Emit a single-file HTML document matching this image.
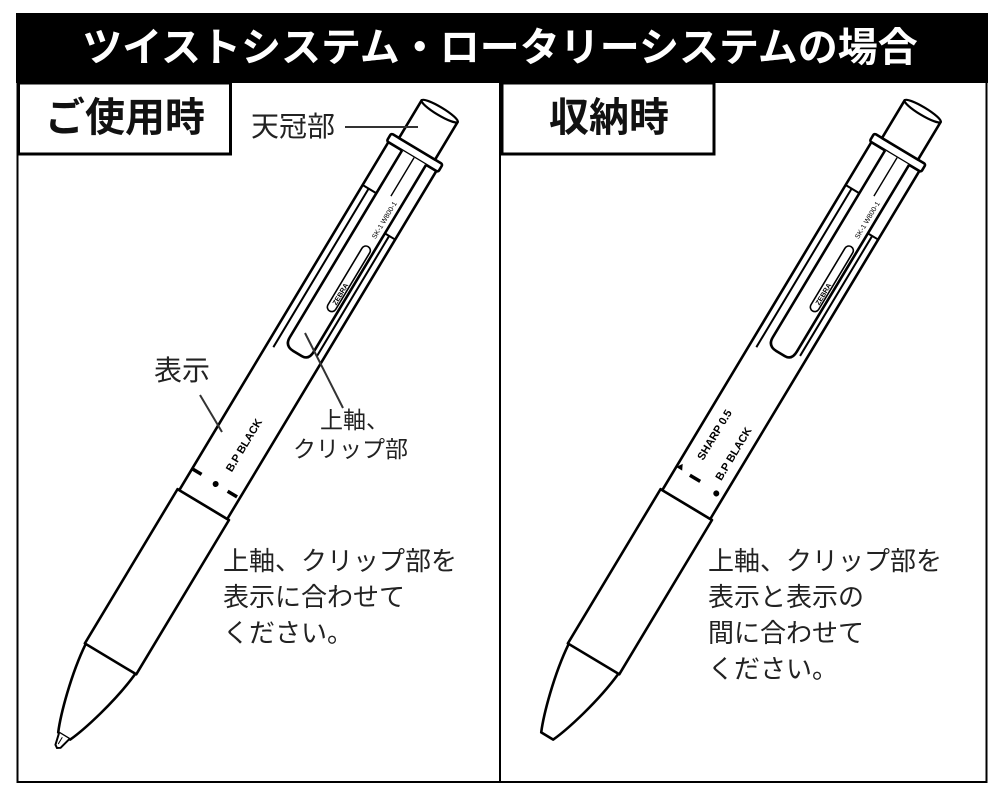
<!DOCTYPE html>
<html><head><meta charset="utf-8">
<style>
html,body{margin:0;padding:0;background:#fff;}
body{width:1000px;height:798px;position:relative;overflow:hidden;font-family:"Liberation Sans","Noto Sans CJK JP",sans-serif;}
.t{position:absolute;white-space:nowrap;color:#222;}
</style></head><body>
<svg width="1000" height="798" style="position:absolute;left:0;top:0" xmlns="http://www.w3.org/2000/svg">
<defs>
<g id="pen" fill="none" stroke="#000" stroke-width="2.6" stroke-linejoin="round">
  <!-- nose -->
  <path d="M104,-29 C70,-26 30,-14 14,-7 L14,7 C30,14 70,26 104,29" fill="#fff"/>
  <!-- grip -->
  <rect x="104" y="-30" width="180" height="60" fill="#fff"/>
  <!-- body -->
  <rect x="284" y="-28" width="406" height="56" fill="#fff"/>
  <!-- top ring -->
  <rect x="690" y="-30" width="9" height="60" rx="2" fill="#fff"/>
  <!-- cap -->
  <rect x="699" y="-21" width="44" height="42" fill="#fff"/>
  <ellipse cx="743" cy="0" rx="4" ry="21" fill="#fff" stroke-width="2.2"/>
  <!-- clip -->
  <path d="M690,-12 L472,-12 Q462,-12 462,-2 L462,8 Q462,16 472,16 L690,16" fill="#fff"/>
  <!-- inner strip lines -->
  <line x1="455" y1="-21" x2="640" y2="-21" stroke-width="2"/>
  <line x1="640" y1="-28" x2="640" y2="-12" stroke-width="2"/>
  <line x1="470" y1="21" x2="610" y2="21" stroke-width="2"/>
  <line x1="610" y1="16" x2="610" y2="28" stroke-width="2"/>
  <line x1="645" y1="2" x2="690" y2="2" stroke-width="1.4"/>
  <!-- ZEBRA emboss -->
  <rect x="515" y="4" width="75" height="9" rx="4.5" stroke-width="1.6"/>
  <text x="523" y="11.5" font-size="7" font-weight="bold" fill="#000" stroke="none" font-family="Liberation Sans,sans-serif">ZEBRA</text>
  <text x="600" y="11" font-size="7" fill="#000" stroke="none" font-family="Liberation Sans,sans-serif">SK-1 W800-1</text>
</g>
</defs>

<!-- header -->
<rect x="16" y="13" width="972" height="70" fill="#000"/>
<!-- frame -->
<rect x="17.5" y="70" width="969" height="712" fill="none" stroke="#000" stroke-width="2"/>
<line x1="500" y1="83" x2="500" y2="782" stroke="#000" stroke-width="2"/>
<rect x="16" y="13" width="972" height="70" fill="#000"/>
<!-- label boxes -->
<rect x="18.5" y="83" width="212" height="71" fill="#fff" stroke="#000" stroke-width="3"/>
<rect x="502" y="83" width="212" height="71" fill="#fff" stroke="#000" stroke-width="3"/>

<!-- left pen -->
<g transform="translate(57,748) rotate(-59)">
  <use href="#pen"/>
  <!-- refill tip -->
  <path d="M14,-6 L2,-3 L0,0 L2,3 L14,6" fill="#fff" stroke="#000" stroke-width="2"/>
  <line x1="4" y1="-1" x2="12" y2="-1" stroke="#000" stroke-width="1"/>
  <!-- markings -->
  <line x1="309" y1="-27" x2="309" y2="-17" stroke="#000" stroke-width="3.5"/>
  <circle cx="308" cy="0" r="3" fill="#000"/>
  <line x1="308" y1="14" x2="308" y2="25" stroke="#000" stroke-width="3.5"/>
  <text x="326" y="8" font-size="11" font-weight="bold" font-family="Liberation Sans,sans-serif" fill="#000">B.P  BLACK</text>
</g>

<!-- right pen -->
<g transform="translate(540,748) rotate(-59)">
  <use href="#pen"/>
  <path d="M311,-28 L317,-24 L311,-21 Z" fill="#000"/>
  <line x1="311" y1="-12" x2="311" y2="0" stroke="#000" stroke-width="3.5"/>
  <circle cx="309" cy="20" r="3" fill="#000"/>
  <text x="330" y="-8" font-size="11" font-weight="bold" font-family="Liberation Sans,sans-serif" fill="#000">SHARP  0.5</text>
  <text x="322" y="18" font-size="11" font-weight="bold" font-family="Liberation Sans,sans-serif" fill="#000">B.P  BLACK</text>
</g>

<!-- leader lines -->
<line x1="345" y1="127" x2="418" y2="127" stroke="#333" stroke-width="2"/>
<line x1="200" y1="395" x2="222" y2="432" stroke="#333" stroke-width="2"/>
<line x1="305" y1="333" x2="343" y2="408" stroke="#333" stroke-width="2"/>
</svg>

<div class="t" style="left:0;width:1000px;top:22px;text-align:center;color:#fff;font-size:40px;font-weight:bold;line-height:52px;">ツイストシステム・ロータリーシステムの場合</div>
<div class="t" style="left:19px;width:212px;top:92px;text-align:center;color:#111;font-size:40px;font-weight:bold;line-height:52px;">ご使用時</div>
<div class="t" style="left:503px;width:212px;top:92px;text-align:center;color:#111;font-size:40px;font-weight:bold;line-height:52px;">収納時</div>

<div class="t" style="left:251px;top:110px;font-size:28px;line-height:34px;">天冠部</div>
<div class="t" style="left:154px;top:354px;font-size:28px;line-height:34px;">表示</div>
<div class="t" style="left:320px;top:405px;font-size:23px;line-height:30px;">上軸、</div>
<div class="t" style="left:293px;top:434px;font-size:23px;line-height:30px;">クリップ部</div>

<div class="t" style="left:223px;top:543px;font-size:26px;line-height:36px;">上軸、クリップ部を<br>表示に合わせて<br>ください。</div>
<div class="t" style="left:708px;top:543px;font-size:26px;line-height:36px;">上軸、クリップ部を<br>表示と表示の<br>間に合わせて<br>ください。</div>
</body></html>
